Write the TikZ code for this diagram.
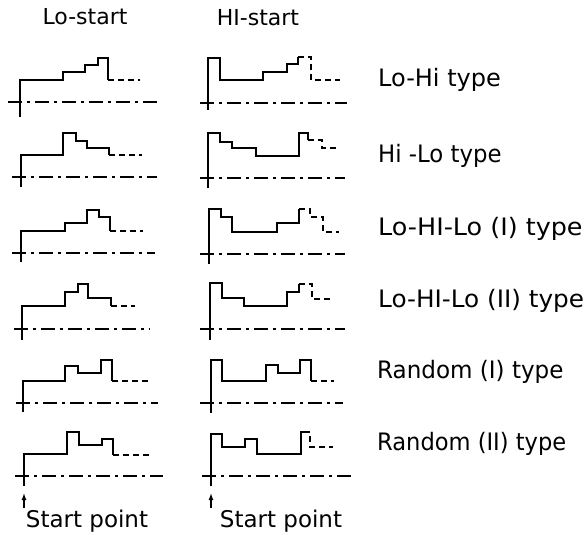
\documentclass[tikz,border=0pt]{standalone}
\usepackage{fontspec}
\setmainfont{DejaVu Sans}
\usetikzlibrary{arrows.meta}

\tikzset{
  sig/.style={line width=1.8pt, line join=miter},
  sigtail/.style={line width=1.8pt, dash pattern=on 6pt off 4pt},
  nulllinie/.style={line width=1.4pt, dash pattern=on 14pt off 5pt on 3pt off 5pt},
  kopf/.style={font=\fontsize{22}{26}\selectfont, inner sep=0pt, anchor=base},
  fuss/.style={font=\fontsize{23}{27}\selectfont, inner sep=0pt, anchor=base},
  typ/.style={font=\fontsize{24}{28}\selectfont, inner sep=0pt, anchor=base west},
  startpfeil/.style={line width=1.3pt, -{Latex[length=7pt,width=5pt]}}
}

\begin{document}
\begin{tikzpicture}[x=1pt, y=-1pt]

\useasboundingbox (0,0) rectangle (587,535);

% Spaltenköpfe
\node[kopf] (loKopf) at (85,25) {Lo-start};
\node[kopf] (hiKopf) at (258,26) {HI-start};

% Nulllinien (strich-punktiert)
\draw[nulllinie] (8,102) -- (157,102);
\draw[nulllinie] (12,177) -- (157,177);
\draw[nulllinie] (12,253) -- (155,253);
\draw[nulllinie] (14,329) -- (150,329);
\draw[nulllinie] (16,403) -- (158,403);
\draw[nulllinie] (15,476) -- (163,476);

\draw[nulllinie] (200,103) -- (347,103);
\draw[nulllinie] (200,178) -- (345,178);
\draw[nulllinie] (200,254) -- (345,254);
\draw[nulllinie] (200,329) -- (345,329);
\draw[nulllinie] (200,403) -- (343,403);
\draw[nulllinie] (202,476) -- (355,476);

% Lo-start Verläufe
\draw[sig] (20,117) -- (20,80) -- (63,80) -- (63,72) -- (85,72) -- (85,65) -- (98,65) -- (98,58) -- (108,58) -- (108,80);
\draw[sigtail] (108,80) -- (140,80);

\draw[sig] (21,187) -- (21,155) -- (63,155) -- (63,133) -- (76,133) -- (76,141) -- (87,141) -- (87,148) -- (109,148) -- (109,155);
\draw[sigtail] (109,155) -- (142,155);

\draw[sig] (21,262) -- (21,231) -- (65,231) -- (65,223) -- (87,223) -- (87,210) -- (99,210) -- (99,217) -- (110,217) -- (110,231);
\draw[sigtail] (110,231) -- (143,231);

\draw[sig] (22,340) -- (22,306) -- (65,306) -- (65,292) -- (78,292) -- (78,284) -- (88,284) -- (88,298) -- (111,298) -- (111,306);
\draw[sigtail] (111,306) -- (135,306);

\draw[sig] (23,412) -- (23,381) -- (65,381) -- (65,366) -- (78,366) -- (78,373) -- (101,373) -- (101,360) -- (112,360) -- (112,381);
\draw[sigtail] (112,381) -- (148,381);

\draw[sig] (24,486) -- (24,454) -- (67,454) -- (67,432) -- (79,432) -- (79,445) -- (102,445) -- (102,439) -- (113,439) -- (113,455);
\draw[sigtail] (113,455) -- (150,455);

% Hi-start Verläufe
\draw[sig] (208,110) -- (208,58) -- (220,58) -- (220,80) -- (263,80) -- (263,72) -- (287,72) -- (287,64) -- (298,64) -- (298,57);
\draw[sigtail] (298,57) -- (311,57) -- (311,80) -- (340,80);

\draw[sig] (208,188) -- (208,133) -- (220,133) -- (220,142) -- (232,142) -- (232,148) -- (256,148) -- (256,156) -- (299,156) -- (299,133) -- (308,133) -- (308,140);
\draw[sigtail] (308,140) -- (322,140) -- (322,148) -- (336,148);

\draw[sig] (209,264) -- (209,209) -- (221,209) -- (221,217) -- (232,217) -- (232,232) -- (277,232) -- (277,223) -- (299,223) -- (299,209);
\draw[sigtail] (299,209) -- (310,209) -- (310,217) -- (323,217) -- (323,232) -- (339,232);

\draw[sig] (210,340) -- (210,283) -- (222,283) -- (222,298) -- (244,298) -- (244,306) -- (287,306) -- (287,292) -- (299,292) -- (299,284);
\draw[sigtail] (299,284) -- (312,284) -- (312,299) -- (330,299);

\draw[sig] (211,413) -- (211,360) -- (222,360) -- (222,381) -- (266,381) -- (266,365) -- (278,365) -- (278,373) -- (300,373) -- (300,360) -- (311,360) -- (311,381);
\draw[sigtail] (311,381) -- (334,381);

\draw[sig] (211,486) -- (211,434) -- (222,434) -- (222,447) -- (245,447) -- (245,439) -- (257,439) -- (257,454) -- (301,454) -- (301,432) -- (304,432);
\draw[sigtail] (304,432) -- (310,432) -- (310,447) -- (333,447);

% Typbezeichnungen (Breite an Vorlage angepasst)
\node[typ] (typA) at (378,87) {Lo-Hi type};
\node[typ] (typB) at (378,162) {\scalebox{0.95}[1]{Hi -Lo type}};
\node[typ] (typC) at (378,235) {\scalebox{1.06}[1]{Lo-HI-Lo (I) type}};
\node[typ] (typD) at (378,307) {\scalebox{1.03}[1]{Lo-HI-Lo (II) type}};
\node[typ] (typE) at (377,378) {\scalebox{0.96}[1]{Random (I) type}};
\node[typ] (typF) at (377,450) {\scalebox{0.94}[1]{Random (II) type}};

% Startpunkte
\node[fuss] (loStart) at (87,527) {Start point};
\node[fuss] (hiStart) at (281,527) {Start point};
\coordinate (loFuss) at (24,508);
\coordinate (hiFuss) at (211,508);
\coordinate (loPfeil) at (24,493);
\coordinate (hiPfeil) at (211,493);
\draw[startpfeil] (loFuss) -- (loPfeil);
\draw[startpfeil] (hiFuss) -- (hiPfeil);

\end{tikzpicture}
\end{document}
